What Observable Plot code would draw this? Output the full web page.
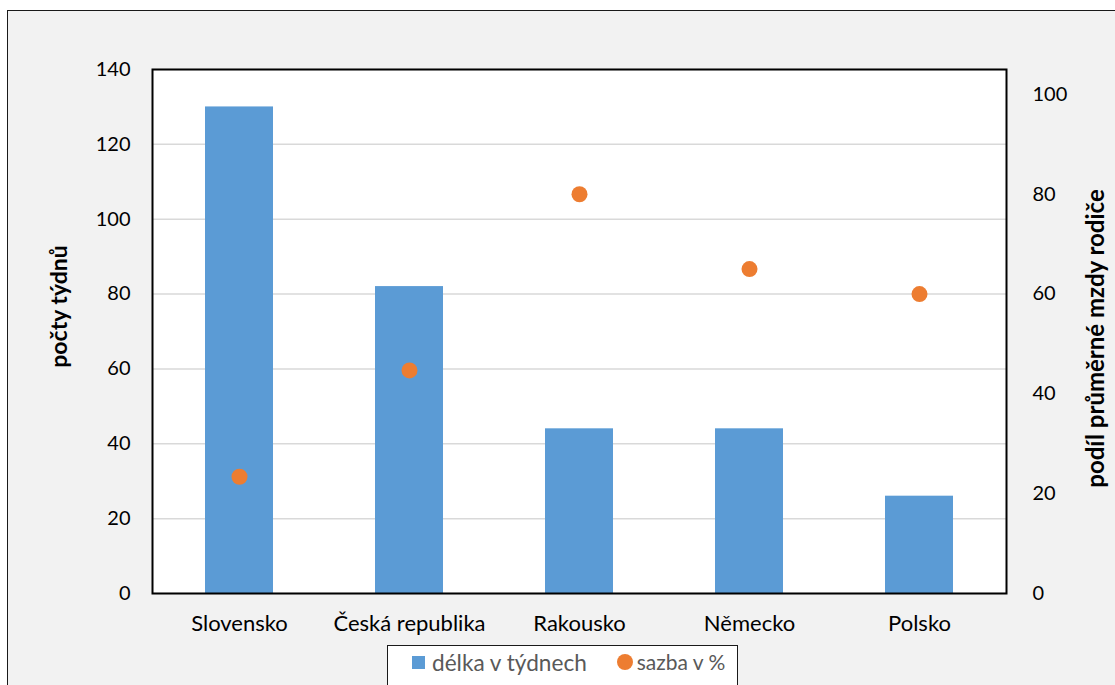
<!DOCTYPE html>
<html><head><meta charset="utf-8">
<script src="https://cdn.jsdelivr.net/npm/d3@7"></script>
<script src="https://cdn.jsdelivr.net/npm/@observablehq/plot@0.6"></script>
<style>
html,body{margin:0;padding:0;width:1115px;height:685px;overflow:hidden;background:#fff;font-family:Lato,sans-serif}
#box{position:absolute;left:7px;top:10px;width:1200px;height:800px;background:#f2f2f2;border:1.5px solid #1a1a1a;box-sizing:border-box}
#chart{position:absolute;left:0;top:0}
#legend{position:absolute;left:387px;top:645px;width:351px;height:60px;background:#fff;border:1.5px solid #1a1a1a;box-sizing:border-box;display:flex;align-items:flex-start;padding-top:3px;padding-left:24px;color:#595959;font-size:22.6px;font-family:Lato,sans-serif}
.item{display:flex;align-items:center;white-space:nowrap}
.sq{width:13px;height:13px;background:#5b9bd5;margin-right:7px}
.dt{width:16px;height:16px;border-radius:50%;background:#ed7d31;margin-right:4px;margin-left:30px}
.s2{font-size:21px}
</style></head>
<body>
<div id="box"></div>
<div id="chart"></div>
<div id="legend"><div class="item"><div class="sq"></div><span>délka v týdnech</span></div><div class="item"><div class="dt"></div><span class="s2">sazba v %</span></div></div>
<script>
const categories = ["Slovensko", "Česká republika", "Rakousko", "Německo", "Polsko"];
const weeks = [130, 82, 44, 44, 26];
const rates = [23.4, 44.7, 80, 65, 60];
const leftTicks = [0, 20, 40, 60, 80, 100, 120, 140];
const rightTicks = [0, 20, 40, 60, 80, 100];
const leftMax = 140, rightMax = 105;
const leftTitle = "počty týdnů";
const rightTitle = "podíl průměrné mzdy rodiče";

const factor = leftMax / rightMax;
const data = categories.map((c, i) => ({country: c, weeks: weeks[i], rate: rates[i]}));

const chart = Plot.plot({
  width: 1115, height: 685,
  marginLeft: 152, marginRight: 109, marginTop: 69, marginBottom: 92,
  style: {fontFamily: "Lato, sans-serif", fontSize: "20px", color: "#000", background: "transparent"},
  x: {domain: categories, paddingInner: 0.6, paddingOuter: 0.3, axis: null},
  y: {domain: [0, leftMax], axis: null},
  marks: [
    Plot.frame({fill: "white", stroke: null}),
    Plot.gridY(leftTicks, {stroke: "#d9d9d9", strokeOpacity: 1, strokeWidth: 1.5}),
    Plot.barY(data, {x: "country", y: "weeks", fill: "#5b9bd5"}),
    Plot.dot(data, {x: "country", y: d => d.rate * factor, r: 8, fill: "#ed7d31", stroke: null}),
    Plot.frame({stroke: "#000", strokeWidth: 2}),
    Plot.axisY(leftTicks, {anchor: "left", tickSize: 0, tickPadding: 22, fontSize: 20, label: null}),
    Plot.axisY(rightTicks.map(v => v * factor), {anchor: "right", tickSize: 0, tickPadding: 26, fontSize: 20, label: null, tickFormat: v => String(Math.round(v / factor))}),
    Plot.axisX(categories, {tickSize: 0, tickPadding: 22, fontSize: 22, label: null}),
    Plot.text([leftTitle], {frameAnchor: "left", textAnchor: "middle", dx: -93, dy: -25, rotate: -90, fontWeight: "bold", fontSize: 23, fill: "#000"}),
    Plot.text([rightTitle], {frameAnchor: "right", textAnchor: "middle", dx: 90, dy: 7, rotate: -90, fontWeight: "bold", fontSize: 24, fill: "#000"})
  ]
});
document.getElementById("chart").appendChild(chart);
</script>
</body></html>
